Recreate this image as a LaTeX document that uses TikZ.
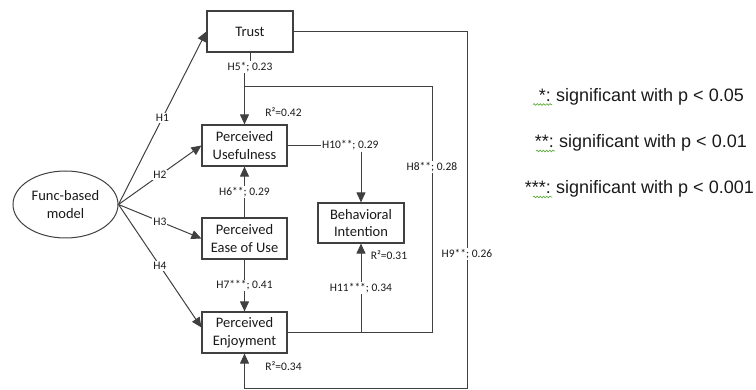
\documentclass[tikz,border=0pt]{standalone}
\usepackage{fontspec}
\setmainfont{Carlito}
\newfontfamily\legendfont{Liberation Sans}
\usetikzlibrary{arrows.meta,shapes.geometric,decorations.pathmorphing,calc}

\definecolor{edge}{HTML}{404040}
\definecolor{ink}{HTML}{1A1A1A}
\definecolor{squiggle}{HTML}{5DAE3B}

\begin{document}
\begin{tikzpicture}[x=1pt,y=-1pt,
  construct/.style={draw=edge, line width=1.2pt, minimum width=85pt, minimum height=41pt,
    inner sep=0pt, align=center, font=\fontsize{14.5}{17.6}\selectfont, text=ink},
  latent/.style={ellipse, draw=edge, line width=1pt, minimum width=105pt, minimum height=67pt,
    inner sep=0pt, align=center, font=\fontsize{14.5}{17.6}\selectfont, text=ink},
  link/.style={draw=edge, line width=1pt},
  arr/.style={link, -{Triangle[length=10pt,width=9pt]}},
  coef/.style={fill=white, inner sep=1pt, font=\fontsize{11.5}{13}\selectfont, text=ink},
  rsq/.style={inner sep=0pt, font=\fontsize{11.5}{13}\selectfont, text=ink},
  legtxt/.style={inner sep=0pt, font=\legendfont\fontsize{18}{20}\selectfont, text=ink},
  spell/.style={draw=squiggle, line width=0.7pt, decorate,
    decoration={snake, amplitude=0.8pt, segment length=3.2pt}},
]
\useasboundingbox (0,0) rectangle (756,390);

% constructs
\node[construct, minimum width=86pt] (trust) at (250,31.5) {Trust};
\node[construct] (pu)   at (244.5,145.5) {Perceived\\Usefulness};
\node[construct] (peou) at (244.5,238.5) {Perceived\\Ease of Use};
\node[construct] (pe)   at (244.5,332.5) {Perceived\\Enjoyment};
\node[construct, minimum width=86pt, minimum height=40pt] (bi) at (361,223) {Behavioral\\Intention};
\node[latent] (fbm) at (65.5,204.5) {Func-based\\model};

% paths from the model
\draw[arr] (fbm.east) -- node[coef] {H1} (trust.west);
\draw[arr] (fbm.east) -- node[coef] {H2} (pu.west);
\draw[arr] (fbm.east) -- node[coef] {H3} (peou.west);
\coordinate (pein) at ($(pe.west)+(0,-5)$);
\draw[arr] (fbm.east) -- node[coef] {H4} (pein);

% trust -> usefulness
\node[coef] (h5) at (250,67) {H5*; 0.23};
\draw[link] (trust.south) -- (h5.north);
\draw[arr] (h5.south -| pu.north) -- (pu.north);

% ease of use -> usefulness / enjoyment
\draw[arr] (peou.north) -- node[coef] {H6**; 0.29} (pu.south);
\draw[arr] (peou.south) -- node[coef] {H7***; 0.41} (pe.north);

% enjoyment -> usefulness
\coordinate (h8c) at (432,87);
\draw[link] (pe.east) -| node[coef, pos=0.837] {H8**; 0.28} (h8c) -- (h8c -| pu.north);

% trust -> enjoyment
\coordinate (h9c) at (467,389);
\draw[arr] (trust.east) -| node[coef, pos=0.811] {H9**; 0.26} (h9c) -| (pe.south);

% usefulness -> intention
\node[coef, anchor=west] (h10) at (321,145.5) {H10**; 0.29};
\draw[link] (pu.east) -- (h10.west);
\draw[arr] (h10.south -| bi.north) -- (bi.north);

% enjoyment -> intention
\draw[arr] (pe.east -| bi.south) -- node[coef] {H11***; 0.34} (bi.south);

% explained variance
\node[rsq] (r2pu) at (283.5,112) {R²=0.42};
\node[rsq] (r2bi) at (389,255) {R²=0.31};
\node[rsq] (r2pe) at (283.5,366) {R²=0.34};

% significance legend
\node[legtxt, anchor=base west] (sig1) at (556,101.5) {significant with p < 0.05};
\node[legtxt, anchor=base east] (st1) at (551,101.5) {*:};
\node[legtxt, anchor=base west] (sig2) at (559,148) {significant with p < 0.01};
\node[legtxt, anchor=base east] (st2) at (554,148) {**:};
\node[legtxt, anchor=base west] (sig3) at (556,194) {significant with p < 0.001};
\node[legtxt, anchor=base east] (st3) at (551,194) {***:};
\draw[spell] ($(st1.base east)+(-18,3)$) -- ($(st1.base east)+(1,3)$);
\draw[spell] ($(st2.base east)+(-18,3)$) -- ($(st2.base east)+(1,3)$);
\draw[spell] ($(st3.base east)+(-18,3)$) -- ($(st3.base east)+(1,3)$);
\end{tikzpicture}
\end{document}
